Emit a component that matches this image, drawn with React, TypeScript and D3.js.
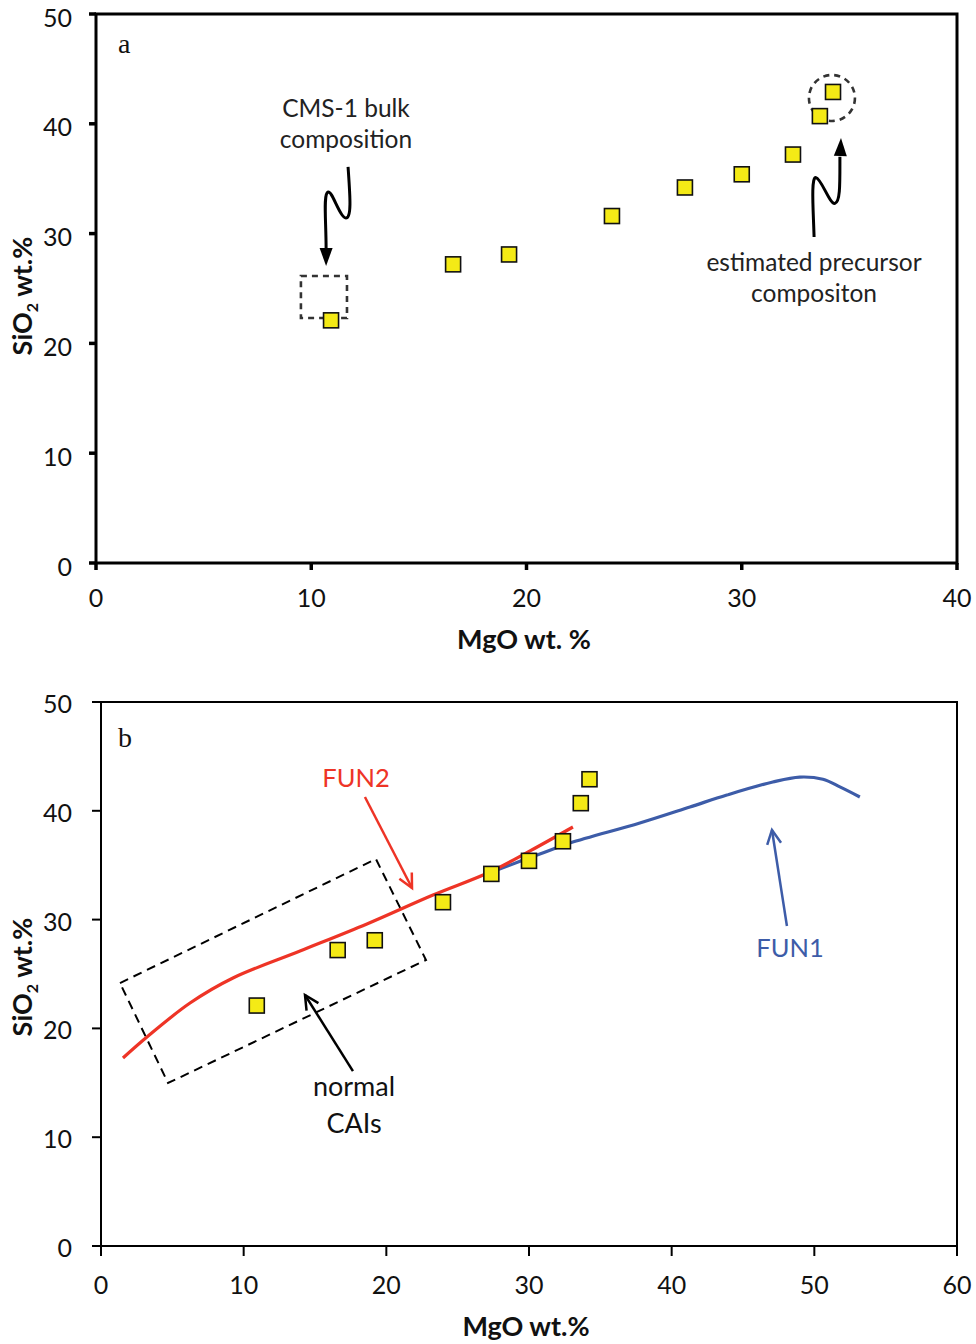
import React from "react";
import * as d3 from "d3";

// ---- data ----
const mgo = [10.92, 16.59, 19.19, 23.97, 27.36, 30.0, 32.38, 33.63, 34.24];
const sio2 = [22.1, 27.2, 28.1, 31.6, 34.2, 35.4, 37.2, 40.7, 42.9];

const fun2X = [1.54, 3.22, 6.24, 9.25, 13.95, 18.64, 23.27, 27.27, 30.07, 33.08];
const fun2Y = [17.28, 19.21, 22.33, 24.63, 27.11, 29.6, 32.26, 34.38, 36.31, 38.51];

const fun1X = [27.75, 30.76, 32.87, 37.77, 41.28, 43.87, 47.09, 48.98, 50.6, 51.79, 53.19];
const fun1Y = [34.56, 36.03, 37.04, 38.88, 40.35, 41.45, 42.65, 43.1, 42.9, 42.2, 41.27];

const ticksA_x = [0, 10, 20, 30, 40];
const ticksA_y = [0, 10, 20, 30, 40, 50];
const ticksB_x = [0, 10, 20, 30, 40, 50, 60];
const ticksB_y = [0, 10, 20, 30, 40, 50];

const FONT = "Lato, 'Open Sans', sans-serif";
const YELLOW = "#f4ea16";
const RED = "#ee3426";
const BLUE = "#3d5ca8";

// ---- scales ----
const xa = d3.scaleLinear().domain([0, 40]).range([96, 957]);
const ya = d3.scaleLinear().domain([0, 50]).range([563, 14]);
const xb = d3.scaleLinear().domain([0, 60]).range([101, 957]);
const yb = d3.scaleLinear().domain([0, 50]).range([1246, 702]);

function arrowHead(x1: number, y1: number, x2: number, y2: number, len: number, w: number, color: string, key: string, filled = true) {
  const a = Math.atan2(y2 - y1, x2 - x1);
  const bx = x2 - len * Math.cos(a);
  const by = y2 - len * Math.sin(a);
  const px = -Math.sin(a) * w / 2;
  const py = Math.cos(a) * w / 2;
  if (filled) {
    return <polygon key={key} points={`${x2},${y2} ${bx + px},${by + py} ${bx - px},${by - py}`} fill={color} />;
  }
  return <polyline key={key} points={`${bx + px},${by + py} ${x2},${y2} ${bx - px},${by - py}`} fill="none" stroke={color} strokeWidth={2.5} />;
}

function Square({ cx, cy }: { cx: number; cy: number }) {
  const s = 15;
  return <rect x={cx - s / 2} y={cy - s / 2} width={s} height={s} fill={YELLOW} stroke="#111" strokeWidth={1.6} />;
}

function SiO2Label({ cx, cy }: { cx: number; cy: number }) {
  return (
    <text transform={`translate(${cx},${cy}) rotate(-90)`} textAnchor="middle" fontFamily={FONT} fontWeight="bold" fontSize={27} fill="#111">
      SiO<tspan dy={6} fontSize={16}>2</tspan><tspan dy={-6}> wt.%</tspan>
    </text>
  );
}

export default function App() {
  const pts = mgo.map((m, i) => ({ x: m, y: sio2[i] }));
  const lineB = d3.line<[number, number]>().x((d) => xb(d[0])).y((d) => yb(d[1])).curve(d3.curveCatmullRom.alpha(0.5));
  const fun2 = fun2X.map((x, i) => [x, fun2Y[i]] as [number, number]);
  const fun1 = fun1X.map((x, i) => [x, fun1Y[i]] as [number, number]);

  // squiggle 1 (panel a)
  const s1 = `M${xa(11.71)},${ya(36.07)} C${xa(11.8)},${ya(33.52)} ${xa(11.89)},${ya(31.42)} ${xa(11.61)},${ya(31.42)} C${xa(11.34)},${ya(31.42)} ${xa(10.96)},${ya(33.97)} ${xa(10.78)},${ya(33.79)} C${xa(10.55)},${ya(33.61)} ${xa(10.69)},${ya(31.24)} ${xa(10.69)},${ya(28.6)}`;
  // squiggle 2 (panel a)
  const s2 = `M${xa(33.36)},${ya(29.69)} C${xa(33.33)},${ya(32)} ${xa(33.2)},${ya(35.2)} ${xa(33.45)},${ya(35.1)} C${xa(33.7)},${ya(35.0)} ${xa(34.1)},${ya(32.6)} ${xa(34.33)},${ya(32.75)} C${xa(34.58)},${ya(32.9)} ${xa(34.56)},${ya(34.5)} ${xa(34.56)},${ya(37.0)}`;

  const rect = [[1.33, 24.17], [19.27, 35.57], [22.78, 26.29], [4.7, 14.98]];
  const rectPts = rect.map((p) => `${xb(p[0])},${yb(p[1])}`).join(" ");

  return (
    <svg width={976} height={1344} style={{ position: "absolute", left: 0, top: 0, background: "#fff" }}>
      {/* ================= Panel a ================= */}
      <g>
        <rect x={xa(0)} y={ya(50)} width={xa(40) - xa(0)} height={ya(0) - ya(50)} fill="none" stroke="#000" strokeWidth={3} />
        {ticksA_y.map((t) => (
          <g key={"ay" + t}>
            <line x1={xa(0) - 7} x2={xa(0)} y1={ya(t)} y2={ya(t)} stroke="#000" strokeWidth={3.5} />
            <text x={72} y={ya(t) + 12.5} textAnchor="end" fontFamily={FONT} fontSize={25} fill="#111">{t}</text>
          </g>
        ))}
        {ticksA_x.map((t) => (
          <g key={"ax" + t}>
            <line x1={xa(t)} x2={xa(t)} y1={ya(0)} y2={ya(0) + 7} stroke="#000" strokeWidth={3.5} />
            <text x={xa(t)} y={607} textAnchor="middle" fontFamily={FONT} fontSize={25} fill="#111">{t}</text>
          </g>
        ))}
        <text x={524} y={649} textAnchor="middle" fontFamily={FONT} fontWeight="bold" fontSize={27} fill="#111">MgO wt. %</text>
        <SiO2Label cx={32} cy={296} />
        <text x={118} y={53} fontFamily="'Liberation Serif', 'DejaVu Serif', serif" fontSize={28} fill="#111">a</text>

        {/* annotations */}
        <text x={346} y={117} textAnchor="middle" fontFamily={FONT} fontSize={24.5} fill="#222">CMS-1 bulk</text>
        <text x={346} y={148} textAnchor="middle" fontFamily={FONT} fontSize={24.5} fill="#222">composition</text>
        <path d={s1} fill="none" stroke="#000" strokeWidth={3} />
        {arrowHead(xa(10.69), ya(29.5), xa(10.69), ya(27.05), 18, 13, "#000", "ah1")}
        <rect x={xa(9.52)} y={ya(26.14)} width={xa(11.66) - xa(9.52)} height={ya(22.31) - ya(26.14)} fill="none" stroke="#333" strokeWidth={2.6} strokeDasharray="6,5" />

        <text x={814} y={271} textAnchor="middle" fontFamily={FONT} fontSize={24.5} fill="#222">estimated precursor</text>
        <text x={814} y={302} textAnchor="middle" fontFamily={FONT} fontSize={24.5} fill="#222">compositon</text>
        <path d={s2} fill="none" stroke="#000" strokeWidth={3} />
        {arrowHead(xa(34.56), ya(36.0), xa(34.61), ya(38.71), 18, 13, "#000", "ah2")}
        <circle cx={xa(34.19)} cy={ya(42.35)} r={23} fill="none" stroke="#333" strokeWidth={2.6} strokeDasharray="6,5" />

        {pts.map((p, i) => <Square key={"a" + i} cx={xa(p.x)} cy={ya(p.y)} />)}
      </g>

      {/* ================= Panel b ================= */}
      <g>
        <rect x={xb(0)} y={yb(50)} width={xb(60) - xb(0)} height={yb(0) - yb(50)} fill="none" stroke="#000" strokeWidth={2} />
        {ticksB_y.map((t) => (
          <g key={"by" + t}>
            <line x1={xb(0) - 9} x2={xb(0)} y1={yb(t)} y2={yb(t)} stroke="#000" strokeWidth={2} />
            <text x={72} y={yb(t) + 11} textAnchor="end" fontFamily={FONT} fontSize={25} fill="#111">{t}</text>
          </g>
        ))}
        {ticksB_x.map((t) => (
          <g key={"bx" + t}>
            <line x1={xb(t)} x2={xb(t)} y1={yb(0)} y2={yb(0) + 10} stroke="#000" strokeWidth={2} />
            <text x={xb(t)} y={1294} textAnchor="middle" fontFamily={FONT} fontSize={25} fill="#111">{t}</text>
          </g>
        ))}
        <text x={526} y={1336} textAnchor="middle" fontFamily={FONT} fontWeight="bold" fontSize={27} fill="#111">MgO wt.%</text>
        <SiO2Label cx={32} cy={977} />
        <text x={118} y={747} fontFamily="'Liberation Serif', 'DejaVu Serif', serif" fontSize={28} fill="#111">b</text>

        <polygon points={rectPts} fill="none" stroke="#000" strokeWidth={2} strokeDasharray="9,6" />

        <path d={lineB(fun1) || ""} fill="none" stroke={BLUE} strokeWidth={3.2} />
        <path d={lineB(fun2) || ""} fill="none" stroke={RED} strokeWidth={3.2} />

        <text x={356} y={787} textAnchor="middle" fontFamily={FONT} fontSize={25.5} fill={RED}>FUN2</text>
        <line x1={xb(18.5)} y1={yb(41.27)} x2={xb(21.8)} y2={yb(32.9)} stroke={RED} strokeWidth={2.5} />
        {arrowHead(xb(18.5), yb(41.27), xb(21.8), yb(32.9), 14, 14, RED, "ahf2", false)}

        <text x={790} y={957} textAnchor="middle" fontFamily={FONT} fontSize={25.5} fill={BLUE}>FUN1</text>
        <line x1={xb(48.08)} y1={yb(29.41)} x2={xb(47.03)} y2={yb(38.24)} stroke={BLUE} strokeWidth={2.5} />
        {arrowHead(xb(48.08), yb(29.41), xb(47.03), yb(38.24), 14, 14, BLUE, "ahf1", false)}

        <text x={354} y={1096} textAnchor="middle" fontFamily={FONT} fontSize={27} fill="#111">normal</text>
        <text x={354} y={1133} textAnchor="middle" fontFamily={FONT} fontSize={27} fill="#111">CAIs</text>
        <line x1={xb(17.66)} y1={yb(16.08)} x2={xb(14.3)} y2={yb(23.07)} stroke="#000" strokeWidth={2.5} />
        {arrowHead(xb(17.66), yb(16.08), xb(14.3), yb(23.07), 14, 14, "#000", "ahn", false)}

        {pts.map((p, i) => <Square key={"b" + i} cx={xb(p.x)} cy={yb(p.y)} />)}
      </g>
    </svg>
  );
}
